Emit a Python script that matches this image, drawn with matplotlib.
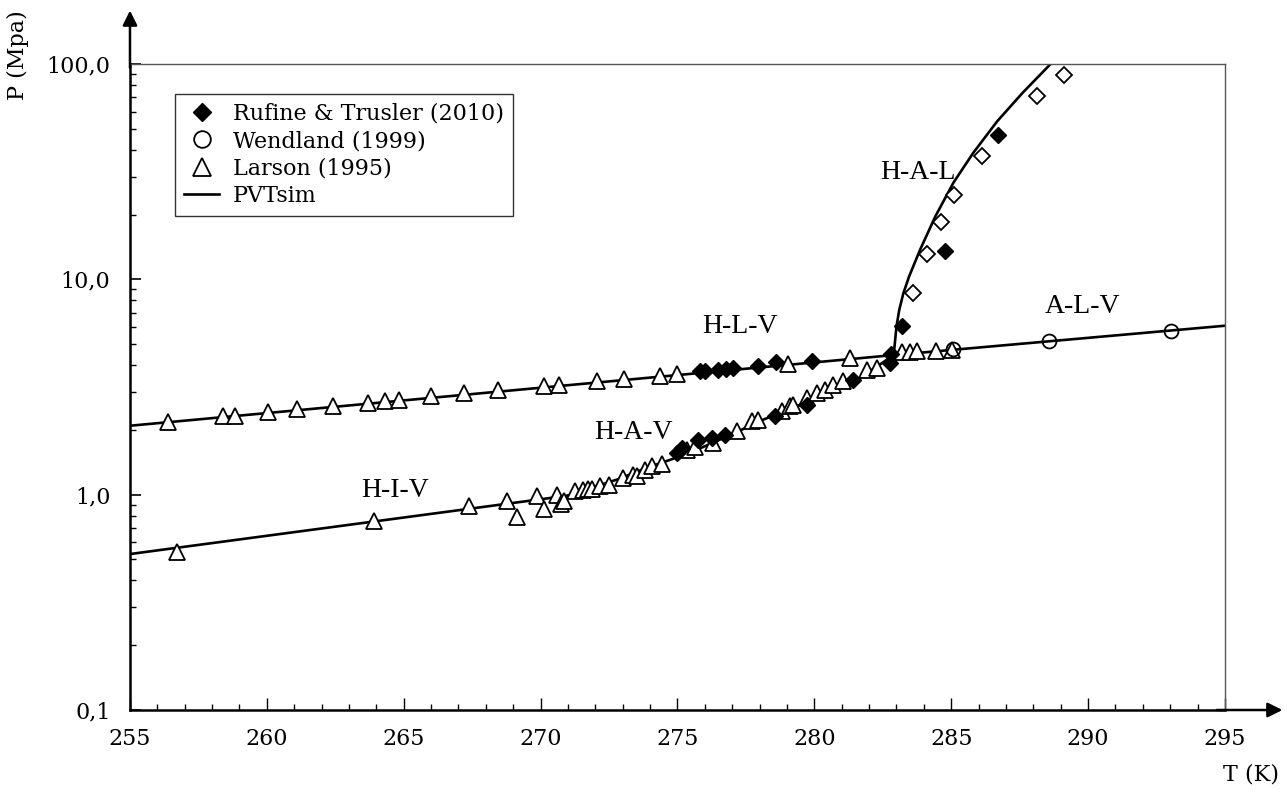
import matplotlib
matplotlib.use("Agg")
import matplotlib.pyplot as plt
from matplotlib.ticker import FixedLocator, LogLocator, NullFormatter, MultipleLocator

plt.rcParams['font.family'] = ['DejaVu Serif']

# Rufine & Trusler (2010), filled diamonds
rt_T = [275.82, 276.00, 276.49, 276.76, 277.02, 277.95, 278.60, 279.90,
        274.97, 275.15, 275.76, 276.25, 276.74, 278.58, 279.72, 281.42,
        282.76, 282.80, 283.21, 284.77, 286.72]
rt_P = [3.74, 3.77, 3.81, 3.83, 3.88, 3.97, 4.12, 4.16,
        1.56, 1.65, 1.80, 1.83, 1.90, 2.31, 2.62, 3.42,
        4.09, 4.50, 6.05, 13.49, 47.0]

# open diamonds on the H-A-L branch (no legend entry)
hal_T = [283.61, 284.10, 284.63, 285.10, 286.13, 288.12, 289.13]
hal_P = [8.64, 13.16, 18.39, 24.73, 37.5, 70.7, 89.2]

# Wendland (1999)
wd_T = [285.06, 288.57, 293.03]
wd_P = [4.76, 5.19, 5.78]

# Larson (1995)
la_T = [256.40, 258.39, 258.84, 260.05, 261.09, 262.40, 263.71, 264.32,
        264.84, 265.98, 267.21, 268.43, 270.12, 270.68, 272.05, 273.05,
        274.36, 274.99, 279.05, 281.30, 283.19, 283.49, 283.74, 284.44,
        285.02,
        256.71, 263.92, 267.39, 268.78, 269.13, 269.86, 270.12, 270.61,
        270.73, 270.87, 271.26, 271.56, 271.74, 271.87, 272.17, 272.51,
        273.00, 273.39, 273.53, 273.81, 274.06, 274.42, 275.34, 275.64,
        276.31, 277.16, 277.71, 277.95, 278.81, 279.11, 279.23, 279.72,
        280.08, 280.39, 280.69, 281.06, 281.91, 282.28]
la_P = [2.17, 2.31, 2.33, 2.41, 2.50, 2.57, 2.67, 2.71,
        2.76, 2.86, 2.97, 3.05, 3.18, 3.24, 3.36, 3.46,
        3.57, 3.65, 4.05, 4.31, 4.59, 4.59, 4.64, 4.63,
        4.68,
        0.540, 0.751, 0.882, 0.931, 0.784, 0.982, 0.858, 1.00,
        0.908, 0.931, 1.036, 1.055, 1.063, 1.063, 1.101, 1.113,
        1.196, 1.238, 1.216, 1.306, 1.353, 1.393, 1.618, 1.665,
        1.739, 1.968, 2.19, 2.23, 2.44, 2.57, 2.62, 2.81,
        2.97, 3.07, 3.24, 3.36, 3.81, 3.88]

# PVTsim curves
hlv_T = [255.0, 282.9]
hlv_P = [2.09, 4.45]
alv_T = [282.9, 295.0]
alv_P = [4.45, 6.09]
hiv_T = [255.0, 271.0]
hiv_P = [0.53, 0.99]
hav_T = [271.0, 271.56, 272.78, 274.0, 274.79, 275.82, 276.92, 278.13,
         279.35, 280.57, 281.67, 282.9]
hav_P = [0.99, 1.047, 1.174, 1.35, 1.46, 1.64, 1.89, 2.23,
         2.57, 3.02, 3.48, 4.45]
hal_line_T = [282.9, 282.95, 283.0, 283.1, 283.25, 283.46, 283.86, 284.42,
              285.08, 285.80, 286.68, 287.60, 288.63]
hal_line_P = [4.45, 5.2, 6.03, 7.2, 8.6, 10.3, 13.7, 19.6,
              28.1, 38.6, 54.2, 73.3, 100.0]

fig = plt.figure(figsize=(12.87, 7.95), dpi=100)
ax = fig.add_axes([0.101, 0.1069, 0.8508, 0.8126])

lw = 1.9
for T, P in [(hlv_T, hlv_P), (alv_T, alv_P), (hiv_T, hiv_P),
             (hav_T, hav_P), (hal_line_T, hal_line_P)]:
    ax.plot(T, P, color='black', lw=lw, zorder=2, solid_joinstyle='round')
ax.plot([], [], color='black', lw=lw, label='PVTsim')

ax.plot(la_T, la_P, ls='none', marker='^', ms=11, mfc='white', mec='black',
        mew=1.3, zorder=3, label='Larson (1995)')
ax.plot(hal_T, hal_P, ls='none', marker='D', ms=8, mfc='white', mec='black',
        mew=1.3, zorder=4)
ax.plot(wd_T, wd_P, ls='none', marker='o', ms=10, mfc='none', mec='black',
        mew=1.3, zorder=4, label='Wendland (1999)')
ax.plot(rt_T, rt_P, ls='none', marker='D', ms=8, mfc='black', mec='black',
        zorder=5, label='Rufine & Trusler (2010)')

ax.set_yscale('log')
ax.set_xlim(255, 295)
ax.set_ylim(0.1, 100)

ax.yaxis.set_major_locator(FixedLocator([0.1, 1, 10, 100]))
ax.set_yticklabels(['0,1', '1,0', '10,0', '100,0'])
ax.yaxis.set_minor_locator(LogLocator(base=10, subs=range(2, 10)))
ax.yaxis.set_minor_formatter(NullFormatter())
ax.xaxis.set_major_locator(MultipleLocator(5))
ax.xaxis.set_minor_locator(MultipleLocator(1))

ax.tick_params(which='both', direction='in', labelsize=16, color='black')
ax.tick_params(axis='y', which='major', length=8, width=1.2, pad=14)
ax.tick_params(axis='y', which='minor', length=4, width=1)
ax.tick_params(axis='x', which='major', length=9, width=1, pad=13)
ax.tick_params(axis='x', which='minor', length=4, width=1)

for s in ['top', 'right']:
    ax.spines[s].set_color('#555555')
    ax.spines[s].set_linewidth(1)
for s in ['left', 'bottom']:
    ax.spines[s].set_linewidth(1.8)

# arrows on the axes
ax.annotate('', xy=(0, 1.087), xytext=(0, 0.99), xycoords='axes fraction',
            arrowprops=dict(arrowstyle='-|>', color='black', lw=1.8,
                            mutation_scale=22), annotation_clip=False)
ax.annotate('', xy=(1.055, 0), xytext=(0.99, 0), xycoords='axes fraction',
            arrowprops=dict(arrowstyle='-|>', color='black', lw=1.8,
                            mutation_scale=22), annotation_clip=False)

# region labels
lab = dict(fontsize=20, family='Liberation Serif', ha='center', va='center')
ax.text(277.3, 6.03, 'H-L-V', **lab)
ax.text(273.4, 1.94, 'H-A-V', **lab)
ax.text(264.7, 1.05, 'H-I-V', **lab)
ax.text(283.8, 31.3, 'H-A-L', **lab)
ax.text(289.8, 7.47, 'A-L-V', **lab)

handles, labels = ax.get_legend_handles_labels()
order = [3, 2, 1, 0]
leg = ax.legend([handles[i] for i in order], [labels[i] for i in order],
                loc='upper left', bbox_to_anchor=(0.041, 0.954), fontsize=16,
                frameon=True, fancybox=False, edgecolor='black',
                borderpad=0.4, labelspacing=0.25, handlelength=1.6,
                handletextpad=0.6, borderaxespad=0, markerscale=1.2)
leg.get_frame().set_linewidth(1)

fig.text(18 / 1287, 1 - 55 / 795, 'P (Mpa)', rotation=90, ha='center',
         va='center', fontsize=16)
fig.text(1251 / 1287, 1 - 775 / 795, 'T (K)', ha='center', va='center',
         fontsize=16)

fig.savefig('out.png', dpi=100)
